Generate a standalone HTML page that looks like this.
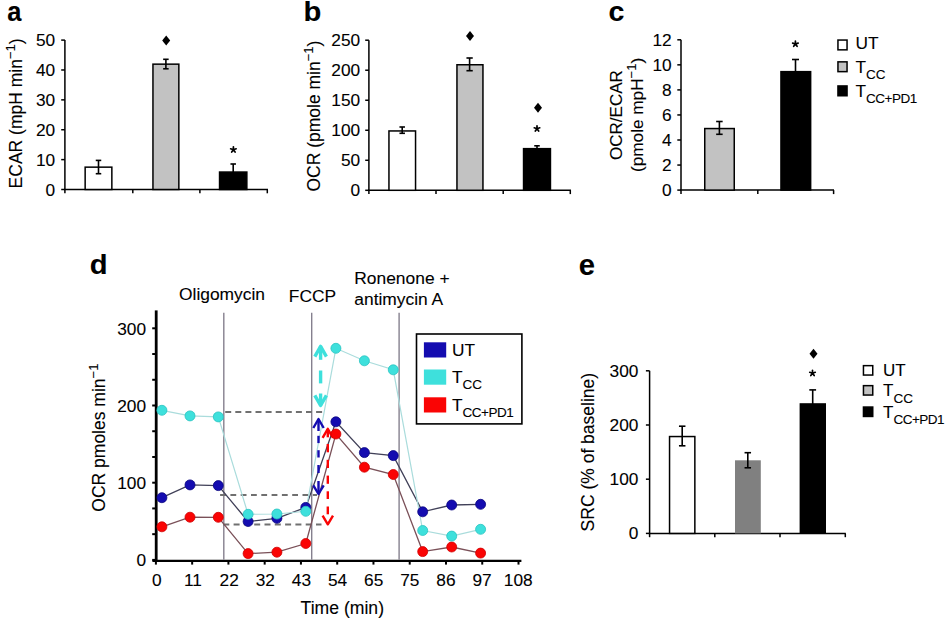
<!DOCTYPE html>
<html><head><meta charset="utf-8"><style>
html,body{margin:0;padding:0;background:#fff;}
svg{display:block;font-family:"Liberation Sans", sans-serif;}
text{stroke:#000;stroke-width:0.1px;}
</style></head><body>
<svg width="946" height="618" viewBox="0 0 946 618">
<rect width="946" height="618" fill="#fff"/>
<text transform="translate(7.29,20.60) scale(0.9107,1.0064)" font-size="28" font-weight="bold">a</text>
<line x1="64.90" y1="40.10" x2="64.90" y2="189.50" stroke="#000" stroke-width="1.5" />
<line x1="61.20" y1="189.50" x2="64.90" y2="189.50" stroke="#000" stroke-width="1.5" />
<text x="55.20" y="195.50" font-size="17.3" text-anchor="end" font-weight="normal" >0</text>
<line x1="61.20" y1="159.62" x2="64.90" y2="159.62" stroke="#000" stroke-width="1.5" />
<text x="55.20" y="165.62" font-size="17.3" text-anchor="end" font-weight="normal" >10</text>
<line x1="61.20" y1="129.74" x2="64.90" y2="129.74" stroke="#000" stroke-width="1.5" />
<text x="55.20" y="135.74" font-size="17.3" text-anchor="end" font-weight="normal" >20</text>
<line x1="61.20" y1="99.86" x2="64.90" y2="99.86" stroke="#000" stroke-width="1.5" />
<text x="55.20" y="105.86" font-size="17.3" text-anchor="end" font-weight="normal" >30</text>
<line x1="61.20" y1="69.98" x2="64.90" y2="69.98" stroke="#000" stroke-width="1.5" />
<text x="55.20" y="75.98" font-size="17.3" text-anchor="end" font-weight="normal" >40</text>
<line x1="61.20" y1="40.10" x2="64.90" y2="40.10" stroke="#000" stroke-width="1.5" />
<text x="55.20" y="46.10" font-size="17.3" text-anchor="end" font-weight="normal" >50</text>
<line x1="64.15" y1="189.50" x2="268.00" y2="189.50" stroke="#000" stroke-width="1.5" />
<line x1="64.90" y1="189.50" x2="64.90" y2="193.30" stroke="#000" stroke-width="1.5" />
<line x1="132.80" y1="189.50" x2="132.80" y2="193.30" stroke="#000" stroke-width="1.5" />
<line x1="199.90" y1="189.50" x2="199.90" y2="193.30" stroke="#000" stroke-width="1.5" />
<line x1="267.30" y1="189.50" x2="267.30" y2="193.30" stroke="#000" stroke-width="1.5" />
<rect x="85.15" y="167.15" width="26.70" height="22.35" fill="#fff" stroke="#000" stroke-width="1.5"/>
<rect x="152.95" y="64.15" width="25.90" height="125.35" fill="#c2c2c2" stroke="#000" stroke-width="1.5"/>
<rect x="219.55" y="172.05" width="27.30" height="17.45" fill="#000" stroke="#000" stroke-width="1.5"/>
<line x1="98.50" y1="160.40" x2="98.50" y2="173.70" stroke="#000" stroke-width="1.6" />
<line x1="95.75" y1="160.40" x2="101.25" y2="160.40" stroke="#000" stroke-width="1.6" />
<line x1="95.75" y1="173.70" x2="101.25" y2="173.70" stroke="#000" stroke-width="1.6" />
<line x1="165.90" y1="59.30" x2="165.90" y2="68.80" stroke="#000" stroke-width="1.6" />
<line x1="163.15" y1="59.30" x2="168.65" y2="59.30" stroke="#000" stroke-width="1.6" />
<line x1="163.15" y1="68.80" x2="168.65" y2="68.80" stroke="#000" stroke-width="1.6" />
<line x1="233.20" y1="164.00" x2="233.20" y2="175.00" stroke="#000" stroke-width="1.6" />
<line x1="230.45" y1="164.00" x2="235.95" y2="164.00" stroke="#000" stroke-width="1.6" />
<line x1="230.45" y1="175.00" x2="235.95" y2="175.00" stroke="#000" stroke-width="1.6" />
<polygon points="166.2,35.6 170.2,40.6 166.2,45.6 162.2,40.6" fill="#000"/>
<path d="M233.4,149.7L233.40,146.80M233.4,149.7L236.16,148.80M233.4,149.7L235.10,152.05M233.4,149.7L231.70,152.05M233.4,149.7L230.64,148.80" stroke="#000" stroke-width="1.7" stroke-linecap="round" fill="none"/>
<text transform="translate(22.4,113.4) rotate(-90)" font-size="17.5" text-anchor="middle">ECAR (mpH min<tspan font-size="13" dy="-7">−1</tspan><tspan dy="7">)</tspan></text>
<text transform="translate(303.42,20.61) scale(1.0421,0.9750)" font-size="28" font-weight="bold">b</text>
<line x1="368.90" y1="40.20" x2="368.90" y2="190.30" stroke="#000" stroke-width="1.5" />
<line x1="365.20" y1="190.30" x2="368.90" y2="190.30" stroke="#000" stroke-width="1.5" />
<text x="360.20" y="196.30" font-size="17.3" text-anchor="end" font-weight="normal" >0</text>
<line x1="365.20" y1="160.28" x2="368.90" y2="160.28" stroke="#000" stroke-width="1.5" />
<text x="360.20" y="166.28" font-size="17.3" text-anchor="end" font-weight="normal" >50</text>
<line x1="365.20" y1="130.26" x2="368.90" y2="130.26" stroke="#000" stroke-width="1.5" />
<text x="360.20" y="136.26" font-size="17.3" text-anchor="end" font-weight="normal" >100</text>
<line x1="365.20" y1="100.24" x2="368.90" y2="100.24" stroke="#000" stroke-width="1.5" />
<text x="360.20" y="106.24" font-size="17.3" text-anchor="end" font-weight="normal" >150</text>
<line x1="365.20" y1="70.22" x2="368.90" y2="70.22" stroke="#000" stroke-width="1.5" />
<text x="360.20" y="76.22" font-size="17.3" text-anchor="end" font-weight="normal" >200</text>
<line x1="365.20" y1="40.20" x2="368.90" y2="40.20" stroke="#000" stroke-width="1.5" />
<text x="360.20" y="46.20" font-size="17.3" text-anchor="end" font-weight="normal" >250</text>
<line x1="368.15" y1="190.30" x2="571.00" y2="190.30" stroke="#000" stroke-width="1.5" />
<line x1="368.90" y1="190.30" x2="368.90" y2="194.10" stroke="#000" stroke-width="1.5" />
<line x1="436.00" y1="190.30" x2="436.00" y2="194.10" stroke="#000" stroke-width="1.5" />
<line x1="503.20" y1="190.30" x2="503.20" y2="194.10" stroke="#000" stroke-width="1.5" />
<line x1="570.30" y1="190.30" x2="570.30" y2="194.10" stroke="#000" stroke-width="1.5" />
<rect x="388.95" y="130.95" width="26.60" height="59.35" fill="#fff" stroke="#000" stroke-width="1.5"/>
<rect x="456.95" y="64.75" width="26.00" height="125.55" fill="#c2c2c2" stroke="#000" stroke-width="1.5"/>
<rect x="523.55" y="148.65" width="26.90" height="41.65" fill="#000" stroke="#000" stroke-width="1.5"/>
<line x1="402.20" y1="127.00" x2="402.20" y2="133.30" stroke="#000" stroke-width="1.6" />
<line x1="399.45" y1="127.00" x2="404.95" y2="127.00" stroke="#000" stroke-width="1.6" />
<line x1="399.45" y1="133.30" x2="404.95" y2="133.30" stroke="#000" stroke-width="1.6" />
<line x1="469.60" y1="58.00" x2="469.60" y2="70.70" stroke="#000" stroke-width="1.6" />
<line x1="466.45" y1="58.00" x2="472.75" y2="58.00" stroke="#000" stroke-width="1.6" />
<line x1="466.45" y1="70.70" x2="472.75" y2="70.70" stroke="#000" stroke-width="1.6" />
<line x1="537.00" y1="145.80" x2="537.00" y2="150.00" stroke="#000" stroke-width="1.6" />
<line x1="534.25" y1="145.80" x2="539.75" y2="145.80" stroke="#000" stroke-width="1.6" />
<line x1="534.25" y1="150.00" x2="539.75" y2="150.00" stroke="#000" stroke-width="1.6" />
<polygon points="470,31.0 474.0,36 470,41.0 466.0,36" fill="#000"/>
<polygon points="538,102.8 542.0,107.8 538,112.8 534.0,107.8" fill="#000"/>
<path d="M537,128.7L537.00,125.80M537,128.7L539.76,127.80M537,128.7L538.70,131.05M537,128.7L535.30,131.05M537,128.7L534.24,127.80" stroke="#000" stroke-width="1.7" stroke-linecap="round" fill="none"/>
<text transform="translate(319.6,116.1) rotate(-90)" font-size="17.5" text-anchor="middle">OCR (pmole min<tspan font-size="13" dy="-7">−1</tspan><tspan dy="7">)</tspan></text>
<text transform="translate(608.48,20.79) scale(1.0221,1.0196)" font-size="28" font-weight="bold">c</text>
<line x1="681.00" y1="39.80" x2="681.00" y2="190.10" stroke="#000" stroke-width="1.5" />
<line x1="677.30" y1="190.10" x2="681.00" y2="190.10" stroke="#000" stroke-width="1.5" />
<text x="671.70" y="196.10" font-size="17.3" text-anchor="end" font-weight="normal" >0</text>
<line x1="677.30" y1="165.05" x2="681.00" y2="165.05" stroke="#000" stroke-width="1.5" />
<text x="671.70" y="171.05" font-size="17.3" text-anchor="end" font-weight="normal" >2</text>
<line x1="677.30" y1="140.00" x2="681.00" y2="140.00" stroke="#000" stroke-width="1.5" />
<text x="671.70" y="146.00" font-size="17.3" text-anchor="end" font-weight="normal" >4</text>
<line x1="677.30" y1="114.95" x2="681.00" y2="114.95" stroke="#000" stroke-width="1.5" />
<text x="671.70" y="120.95" font-size="17.3" text-anchor="end" font-weight="normal" >6</text>
<line x1="677.30" y1="89.90" x2="681.00" y2="89.90" stroke="#000" stroke-width="1.5" />
<text x="671.70" y="95.90" font-size="17.3" text-anchor="end" font-weight="normal" >8</text>
<line x1="677.30" y1="64.85" x2="681.00" y2="64.85" stroke="#000" stroke-width="1.5" />
<text x="671.70" y="70.85" font-size="17.3" text-anchor="end" font-weight="normal" >10</text>
<line x1="677.30" y1="39.80" x2="681.00" y2="39.80" stroke="#000" stroke-width="1.5" />
<text x="671.70" y="45.80" font-size="17.3" text-anchor="end" font-weight="normal" >12</text>
<line x1="680.25" y1="190.10" x2="834.00" y2="190.10" stroke="#000" stroke-width="1.5" />
<line x1="681.00" y1="190.10" x2="681.00" y2="194.10" stroke="#000" stroke-width="1.5" />
<line x1="757.80" y1="190.10" x2="757.80" y2="194.10" stroke="#000" stroke-width="1.5" />
<line x1="833.60" y1="190.10" x2="833.60" y2="194.10" stroke="#000" stroke-width="1.5" />
<rect x="704.75" y="128.55" width="29.50" height="61.55" fill="#c2c2c2" stroke="#000" stroke-width="1.5"/>
<rect x="780.95" y="71.65" width="29.70" height="118.45" fill="#000" stroke="#000" stroke-width="1.5"/>
<line x1="719.40" y1="121.50" x2="719.40" y2="134.30" stroke="#000" stroke-width="1.6" />
<line x1="716.15" y1="121.50" x2="722.65" y2="121.50" stroke="#000" stroke-width="1.6" />
<line x1="716.15" y1="134.30" x2="722.65" y2="134.30" stroke="#000" stroke-width="1.6" />
<line x1="795.50" y1="59.50" x2="795.50" y2="75.00" stroke="#000" stroke-width="1.6" />
<line x1="792.00" y1="59.50" x2="799.00" y2="59.50" stroke="#000" stroke-width="1.6" />
<line x1="792.00" y1="75.00" x2="799.00" y2="75.00" stroke="#000" stroke-width="1.6" />
<path d="M795.4,44L795.40,41.10M795.4,44L798.16,43.10M795.4,44L797.10,46.35M795.4,44L793.70,46.35M795.4,44L792.64,43.10" stroke="#000" stroke-width="1.7" stroke-linecap="round" fill="none"/>
<text transform="translate(622,115.1) rotate(-90)" font-size="17" text-anchor="middle">OCR/ECAR</text>
<text transform="translate(642.6,114.95) rotate(-90)" font-size="17.2" text-anchor="middle">(pmole mpH<tspan font-size="13" dy="-7">−1</tspan><tspan dy="7">)</tspan></text>
<rect x="837.95" y="40.05" width="9.10" height="9.80" fill="#fff" stroke="#000" stroke-width="1.5"/>
<rect x="837.95" y="61.85" width="9.10" height="9.80" fill="#c2c2c2" stroke="#000" stroke-width="1.5"/>
<rect x="837.95" y="85.95" width="9.10" height="9.80" fill="#000" stroke="#000" stroke-width="1.5"/>
<text x="855.50" y="49.00" font-size="17.3" text-anchor="start" font-weight="normal" >UT</text>
<text x="855.50" y="72.80" font-size="17.3" text-anchor="start" font-weight="normal" >T<tspan font-size="13.5" dy="6.2">CC</tspan></text>
<text x="855.50" y="96.60" font-size="17.3" text-anchor="start" font-weight="normal" >T<tspan font-size="13.5" dy="6.8" letter-spacing="-0.5">CC+PD1</tspan></text>
<text transform="translate(89.65,274.21) scale(1.0421,0.9757)" font-size="28" font-weight="bold">d</text>
<line x1="156.20" y1="310.40" x2="156.20" y2="561.90" stroke="#000" stroke-width="2.8" />
<line x1="152.20" y1="559.90" x2="156.20" y2="559.90" stroke="#000" stroke-width="2" />
<line x1="152.20" y1="534.17" x2="156.20" y2="534.17" stroke="#000" stroke-width="2" />
<line x1="152.20" y1="508.43" x2="156.20" y2="508.43" stroke="#000" stroke-width="2" />
<line x1="152.20" y1="482.70" x2="156.20" y2="482.70" stroke="#000" stroke-width="2" />
<line x1="152.20" y1="456.97" x2="156.20" y2="456.97" stroke="#000" stroke-width="2" />
<line x1="152.20" y1="431.23" x2="156.20" y2="431.23" stroke="#000" stroke-width="2" />
<line x1="152.20" y1="405.50" x2="156.20" y2="405.50" stroke="#000" stroke-width="2" />
<line x1="152.20" y1="379.77" x2="156.20" y2="379.77" stroke="#000" stroke-width="2" />
<line x1="152.20" y1="354.03" x2="156.20" y2="354.03" stroke="#000" stroke-width="2" />
<line x1="152.20" y1="328.30" x2="156.20" y2="328.30" stroke="#000" stroke-width="2" />
<text x="146.00" y="566.10" font-size="17.3" text-anchor="end" font-weight="normal" >0</text>
<text x="146.00" y="488.90" font-size="17.3" text-anchor="end" font-weight="normal" >100</text>
<text x="146.00" y="411.70" font-size="17.3" text-anchor="end" font-weight="normal" >200</text>
<text x="146.00" y="334.50" font-size="17.3" text-anchor="end" font-weight="normal" >300</text>
<line x1="152.40" y1="560.80" x2="521.40" y2="560.80" stroke="#000" stroke-width="2.2" />
<line x1="155.90" y1="560.80" x2="155.90" y2="564.60" stroke="#000" stroke-width="2" />
<text x="156.90" y="585.90" font-size="17.3" text-anchor="middle" font-weight="normal" >0</text>
<line x1="192.16" y1="560.80" x2="192.16" y2="564.60" stroke="#000" stroke-width="2" />
<text x="193.03" y="585.90" font-size="17.3" text-anchor="middle" font-weight="normal" >11</text>
<line x1="228.42" y1="560.80" x2="228.42" y2="564.60" stroke="#000" stroke-width="2" />
<text x="229.16" y="585.90" font-size="17.3" text-anchor="middle" font-weight="normal" >22</text>
<line x1="264.68" y1="560.80" x2="264.68" y2="564.60" stroke="#000" stroke-width="2" />
<text x="265.29" y="585.90" font-size="17.3" text-anchor="middle" font-weight="normal" >32</text>
<line x1="300.94" y1="560.80" x2="300.94" y2="564.60" stroke="#000" stroke-width="2" />
<text x="301.42" y="585.90" font-size="17.3" text-anchor="middle" font-weight="normal" >43</text>
<line x1="337.20" y1="560.80" x2="337.20" y2="564.60" stroke="#000" stroke-width="2" />
<text x="337.55" y="585.90" font-size="17.3" text-anchor="middle" font-weight="normal" >54</text>
<line x1="373.46" y1="560.80" x2="373.46" y2="564.60" stroke="#000" stroke-width="2" />
<text x="373.68" y="585.90" font-size="17.3" text-anchor="middle" font-weight="normal" >65</text>
<line x1="409.72" y1="560.80" x2="409.72" y2="564.60" stroke="#000" stroke-width="2" />
<text x="409.81" y="585.90" font-size="17.3" text-anchor="middle" font-weight="normal" >75</text>
<line x1="445.98" y1="560.80" x2="445.98" y2="564.60" stroke="#000" stroke-width="2" />
<text x="445.94" y="585.90" font-size="17.3" text-anchor="middle" font-weight="normal" >86</text>
<line x1="482.24" y1="560.80" x2="482.24" y2="564.60" stroke="#000" stroke-width="2" />
<text x="482.07" y="585.90" font-size="17.3" text-anchor="middle" font-weight="normal" >97</text>
<line x1="518.50" y1="560.80" x2="518.50" y2="564.60" stroke="#000" stroke-width="2" />
<text x="518.20" y="585.90" font-size="17.3" text-anchor="middle" font-weight="normal" >108</text>
<text x="342.30" y="613.80" font-size="17.6" text-anchor="middle" font-weight="normal" >Time (min)</text>
<line x1="223.80" y1="312.80" x2="223.80" y2="559.80" stroke="#85808e" stroke-width="1.4" />
<line x1="311.70" y1="312.80" x2="311.70" y2="559.80" stroke="#85808e" stroke-width="1.4" />
<line x1="399.10" y1="312.80" x2="399.10" y2="559.80" stroke="#85808e" stroke-width="1.4" />
<text x="179.00" y="299.90" font-size="17.4" text-anchor="start" font-weight="normal" >Oligomycin</text>
<text x="288.80" y="302.30" font-size="17.4" text-anchor="start" font-weight="normal" >FCCP</text>
<text x="354.30" y="283.80" font-size="17.4" text-anchor="start" font-weight="normal" >Ronenone +</text>
<text x="354.30" y="304.70" font-size="17.4" text-anchor="start" font-weight="normal" >antimycin A</text>
<text transform="translate(104.6,437.65) rotate(-90)" font-size="17.5" text-anchor="middle">OCR pmoles min<tspan font-size="13" dy="-7">−1</tspan></text>
<line x1="225.20" y1="411.90" x2="322.30" y2="411.90" stroke="#707070" stroke-width="2" stroke-dasharray="6,4.1"/>
<line x1="220.10" y1="495.10" x2="317.00" y2="495.10" stroke="#707070" stroke-width="2" stroke-dasharray="5.8,4.5"/>
<line x1="223.30" y1="524.50" x2="321.50" y2="524.50" stroke="#707070" stroke-width="2" stroke-dasharray="6,4.3"/>
<polyline points="161.9,497.7 190,484.9 218.3,485.6 248.1,521.5 276.9,518.3 305.8,507.4 335.9,421.8 364.4,452.6 393.25,455.6 422.7,511.8 451.7,505 480.6,504.3" fill="none" stroke="#404058" stroke-width="1.3"/>
<polyline points="161.9,526.8 190,517.2 218.3,517.3 248.1,553.6 276.9,552.2 305.8,543.5 335.9,434 364.4,467.2 393.25,474.5 422.7,551.6 451.7,547 480.6,553.1" fill="none" stroke="#7a5058" stroke-width="1.3"/>
<polyline points="161.9,410.3 190,415.9 218.3,416.9 248.1,514.3 276.9,514.0 305.8,511.3 335.9,348.3 364.4,360.8 393.25,369.8 422.7,530.5 451.7,536.1 480.6,529.3" fill="none" stroke="#aadcdc" stroke-width="1.2"/>
<line x1="320.6" y1="346.4" x2="320.6" y2="359.8" stroke="#3ee0dc" stroke-width="3.4"/>
<line x1="320.6" y1="370.5" x2="320.6" y2="383.4" stroke="#3ee0dc" stroke-width="3.4"/>
<line x1="320.6" y1="393.5" x2="320.6" y2="405.5" stroke="#3ee0dc" stroke-width="3.4"/>
<polyline points="314.8,356.6 320.6,346.4 326.40000000000003,356.6" fill="none" stroke="#3ee0dc" stroke-width="3.4" stroke-linejoin="round" stroke-linecap="butt"/>
<polyline points="314.8,395.3 320.6,405.5 326.40000000000003,395.3" fill="none" stroke="#3ee0dc" stroke-width="3.4" stroke-linejoin="round" stroke-linecap="butt"/>
<line x1="318.5" y1="419" x2="318.5" y2="431" stroke="#140cb0" stroke-width="2.4"/>
<line x1="318.5" y1="435.8" x2="318.5" y2="443.1" stroke="#140cb0" stroke-width="2.4"/>
<line x1="318.5" y1="450.2" x2="318.5" y2="457.5" stroke="#140cb0" stroke-width="2.4"/>
<line x1="318.5" y1="465" x2="318.5" y2="473" stroke="#140cb0" stroke-width="2.4"/>
<line x1="318.5" y1="481" x2="318.5" y2="494" stroke="#140cb0" stroke-width="2.4"/>
<polyline points="313.3,428 318.5,419 323.7,428" fill="none" stroke="#140cb0" stroke-width="2.4" stroke-linejoin="round" stroke-linecap="butt"/>
<polyline points="313.3,485.3 318.5,494 323.7,485.3" fill="none" stroke="#140cb0" stroke-width="2.4" stroke-linejoin="round" stroke-linecap="butt"/>
<line x1="327.8" y1="429" x2="327.8" y2="437.3" stroke="#fa0404" stroke-width="2.4"/>
<line x1="327.8" y1="444" x2="327.8" y2="452.3" stroke="#fa0404" stroke-width="2.4"/>
<line x1="327.8" y1="459.8" x2="327.8" y2="468" stroke="#fa0404" stroke-width="2.4"/>
<line x1="327.8" y1="475.6" x2="327.8" y2="483.8" stroke="#fa0404" stroke-width="2.4"/>
<line x1="327.8" y1="491.3" x2="327.8" y2="499" stroke="#fa0404" stroke-width="2.4"/>
<line x1="327.8" y1="506.5" x2="327.8" y2="514.3" stroke="#fa0404" stroke-width="2.4"/>
<polyline points="322.6,437.8 327.8,428.8 333.0,437.8" fill="none" stroke="#fa0404" stroke-width="2.4" stroke-linejoin="round" stroke-linecap="butt"/>
<polyline points="322.6,515.6 327.8,524.3 333.0,515.6" fill="none" stroke="#fa0404" stroke-width="2.4" stroke-linejoin="round" stroke-linecap="butt"/>
<circle cx="161.9" cy="497.7" r="5" fill="#140cb0" stroke="#0a0680" stroke-width="0.8"/>
<circle cx="190" cy="484.9" r="5" fill="#140cb0" stroke="#0a0680" stroke-width="0.8"/>
<circle cx="218.3" cy="485.6" r="5" fill="#140cb0" stroke="#0a0680" stroke-width="0.8"/>
<circle cx="248.1" cy="521.5" r="5" fill="#140cb0" stroke="#0a0680" stroke-width="0.8"/>
<circle cx="276.9" cy="518.3" r="5" fill="#140cb0" stroke="#0a0680" stroke-width="0.8"/>
<circle cx="305.8" cy="507.4" r="5" fill="#140cb0" stroke="#0a0680" stroke-width="0.8"/>
<circle cx="335.9" cy="421.8" r="5" fill="#140cb0" stroke="#0a0680" stroke-width="0.8"/>
<circle cx="364.4" cy="452.6" r="5" fill="#140cb0" stroke="#0a0680" stroke-width="0.8"/>
<circle cx="393.25" cy="455.6" r="5" fill="#140cb0" stroke="#0a0680" stroke-width="0.8"/>
<circle cx="422.7" cy="511.8" r="5" fill="#140cb0" stroke="#0a0680" stroke-width="0.8"/>
<circle cx="451.7" cy="505" r="5" fill="#140cb0" stroke="#0a0680" stroke-width="0.8"/>
<circle cx="480.6" cy="504.3" r="5" fill="#140cb0" stroke="#0a0680" stroke-width="0.8"/>
<circle cx="161.9" cy="526.8" r="5" fill="#fa0404" stroke="#d00000" stroke-width="0.8"/>
<circle cx="190" cy="517.2" r="5" fill="#fa0404" stroke="#d00000" stroke-width="0.8"/>
<circle cx="218.3" cy="517.3" r="5" fill="#fa0404" stroke="#d00000" stroke-width="0.8"/>
<circle cx="248.1" cy="553.6" r="5" fill="#fa0404" stroke="#d00000" stroke-width="0.8"/>
<circle cx="276.9" cy="552.2" r="5" fill="#fa0404" stroke="#d00000" stroke-width="0.8"/>
<circle cx="305.8" cy="543.5" r="5" fill="#fa0404" stroke="#d00000" stroke-width="0.8"/>
<circle cx="335.9" cy="434" r="5" fill="#fa0404" stroke="#d00000" stroke-width="0.8"/>
<circle cx="364.4" cy="467.2" r="5" fill="#fa0404" stroke="#d00000" stroke-width="0.8"/>
<circle cx="393.25" cy="474.5" r="5" fill="#fa0404" stroke="#d00000" stroke-width="0.8"/>
<circle cx="422.7" cy="551.6" r="5" fill="#fa0404" stroke="#d00000" stroke-width="0.8"/>
<circle cx="451.7" cy="547" r="5" fill="#fa0404" stroke="#d00000" stroke-width="0.8"/>
<circle cx="480.6" cy="553.1" r="5" fill="#fa0404" stroke="#d00000" stroke-width="0.8"/>
<circle cx="161.9" cy="410.3" r="5" fill="#3ee0dc" stroke="#28c4c0" stroke-width="0.8"/>
<circle cx="190" cy="415.9" r="5" fill="#3ee0dc" stroke="#28c4c0" stroke-width="0.8"/>
<circle cx="218.3" cy="416.9" r="5" fill="#3ee0dc" stroke="#28c4c0" stroke-width="0.8"/>
<circle cx="248.1" cy="514.3" r="5" fill="#3ee0dc" stroke="#28c4c0" stroke-width="0.8"/>
<circle cx="276.9" cy="514.0" r="5" fill="#3ee0dc" stroke="#28c4c0" stroke-width="0.8"/>
<circle cx="305.8" cy="511.3" r="5" fill="#3ee0dc" stroke="#28c4c0" stroke-width="0.8"/>
<circle cx="335.9" cy="348.3" r="5" fill="#3ee0dc" stroke="#28c4c0" stroke-width="0.8"/>
<circle cx="364.4" cy="360.8" r="5" fill="#3ee0dc" stroke="#28c4c0" stroke-width="0.8"/>
<circle cx="393.25" cy="369.8" r="5" fill="#3ee0dc" stroke="#28c4c0" stroke-width="0.8"/>
<circle cx="422.7" cy="530.5" r="5" fill="#3ee0dc" stroke="#28c4c0" stroke-width="0.8"/>
<circle cx="451.7" cy="536.1" r="5" fill="#3ee0dc" stroke="#28c4c0" stroke-width="0.8"/>
<circle cx="480.6" cy="529.3" r="5" fill="#3ee0dc" stroke="#28c4c0" stroke-width="0.8"/>
<rect x="416.5" y="334" width="105.4" height="89.9" fill="#fff" stroke="#000" stroke-width="1.6"/>
<rect x="423.90" y="342.30" width="22.30" height="15.20" fill="#140cb0" />
<rect x="423.90" y="369.50" width="22.30" height="15.20" fill="#3ee0dc" />
<rect x="423.90" y="397.30" width="22.30" height="15.20" fill="#fa0404" />
<text x="452.00" y="355.90" font-size="17.3" text-anchor="start" font-weight="normal" >UT</text>
<text x="452.00" y="383.10" font-size="17.3" text-anchor="start" font-weight="normal" >T<tspan font-size="13.5" dy="6">CC</tspan></text>
<text x="452.00" y="410.50" font-size="17.3" text-anchor="start" font-weight="normal" >T<tspan font-size="13.5" dy="6" letter-spacing="-0.5">CC+PD1</tspan></text>
<text transform="translate(578.85,274.99) scale(1.0446,1.0389)" font-size="28" font-weight="bold">e</text>
<line x1="649.60" y1="370.80" x2="649.60" y2="533.40" stroke="#000" stroke-width="1.5" />
<line x1="645.90" y1="533.40" x2="649.60" y2="533.40" stroke="#000" stroke-width="1.5" />
<text x="638.40" y="539.40" font-size="17.3" text-anchor="end" font-weight="normal" >0</text>
<line x1="645.90" y1="479.20" x2="649.60" y2="479.20" stroke="#000" stroke-width="1.5" />
<text x="638.40" y="485.20" font-size="17.3" text-anchor="end" font-weight="normal" >100</text>
<line x1="645.90" y1="425.00" x2="649.60" y2="425.00" stroke="#000" stroke-width="1.5" />
<text x="638.40" y="431.00" font-size="17.3" text-anchor="end" font-weight="normal" >200</text>
<line x1="645.90" y1="370.80" x2="649.60" y2="370.80" stroke="#000" stroke-width="1.5" />
<text x="638.40" y="376.80" font-size="17.3" text-anchor="end" font-weight="normal" >300</text>
<line x1="648.85" y1="533.40" x2="845.80" y2="533.40" stroke="#000" stroke-width="1.5" />
<line x1="649.60" y1="533.40" x2="649.60" y2="537.20" stroke="#000" stroke-width="1.5" />
<line x1="714.80" y1="533.40" x2="714.80" y2="537.20" stroke="#000" stroke-width="1.5" />
<line x1="780.00" y1="533.40" x2="780.00" y2="537.20" stroke="#000" stroke-width="1.5" />
<line x1="845.30" y1="533.40" x2="845.30" y2="537.20" stroke="#000" stroke-width="1.5" />
<rect x="669.55" y="436.55" width="25.30" height="96.85" fill="#fff" stroke="#000" stroke-width="1.5"/>
<rect x="735.00" y="460.30" width="25.80" height="73.10" fill="#808080" />
<rect x="799.60" y="403.20" width="26.40" height="130.20" fill="#000" />
<line x1="682.20" y1="426.20" x2="682.20" y2="445.80" stroke="#000" stroke-width="1.6" />
<line x1="678.95" y1="426.20" x2="685.45" y2="426.20" stroke="#000" stroke-width="1.6" />
<line x1="678.95" y1="445.80" x2="685.45" y2="445.80" stroke="#000" stroke-width="1.6" />
<line x1="747.80" y1="452.70" x2="747.80" y2="467.80" stroke="#000" stroke-width="1.6" />
<line x1="744.55" y1="452.70" x2="751.05" y2="452.70" stroke="#000" stroke-width="1.6" />
<line x1="744.55" y1="467.80" x2="751.05" y2="467.80" stroke="#000" stroke-width="1.6" />
<line x1="812.70" y1="389.90" x2="812.70" y2="405.00" stroke="#000" stroke-width="1.6" />
<line x1="809.30" y1="389.90" x2="816.10" y2="389.90" stroke="#000" stroke-width="1.6" />
<line x1="809.30" y1="405.00" x2="816.10" y2="405.00" stroke="#000" stroke-width="1.6" />
<path d="M812.5,373.2L812.50,370.30M812.5,373.2L815.26,372.30M812.5,373.2L814.20,375.55M812.5,373.2L810.80,375.55M812.5,373.2L809.74,372.30" stroke="#000" stroke-width="1.7" stroke-linecap="round" fill="none"/>
<polygon points="813.5,348.8 817.5,353.8 813.5,358.8 809.5,353.8" fill="#000"/>
<text transform="translate(593.5,452.15) rotate(-90)" font-size="17.5" text-anchor="middle">SRC (% of baseline)</text>
<rect x="863.45" y="365.65" width="9.30" height="9.40" fill="#fff" stroke="#000" stroke-width="1.5"/>
<rect x="863.45" y="385.65" width="9.30" height="9.40" fill="#c2c2c2" stroke="#000" stroke-width="1.5"/>
<rect x="863.45" y="407.05" width="9.30" height="9.40" fill="#000" stroke="#000" stroke-width="1.5"/>
<text x="883.00" y="375.60" font-size="17" text-anchor="start" font-weight="normal" >UT</text>
<text x="883.00" y="396.30" font-size="17" text-anchor="start" font-weight="normal" >T<tspan font-size="13.5" dy="6.5">CC</tspan></text>
<text x="883.00" y="417.50" font-size="17" text-anchor="start" font-weight="normal" >T<tspan font-size="13.5" dy="6.5" letter-spacing="-0.5">CC+PD1</tspan></text>
</svg>
</body></html>
